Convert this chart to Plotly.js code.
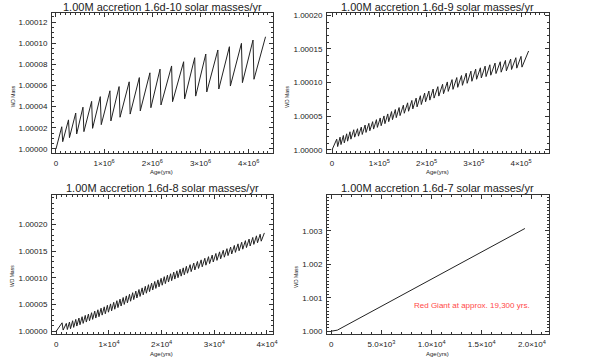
<!DOCTYPE html>
<html>
<head>
<meta charset="utf-8">
<script src="https://cdn.plot.ly/plotly-3.0.1.min.js"></script>
<style>
html,body{margin:0;padding:0;background:#fff}
#chart1{width:594px;height:362px}
</style>
</head>
<body>
<div id="chart1"></div>
<script>
// mass excess is in units of 1e-5 solar masses above 1.00M

// panel 1 : 1.6d-10, age in 1e6 yrs
var p1PeakAge = [0.12,0.26,0.41,0.56,0.74,0.92,1.12,1.31,1.52,1.73,1.95,2.16,2.40,2.65,2.88,3.11,3.36,3.60,3.85,4.09]
var p1PeakDm = [2.1,2.75,3.4,3.95,4.5,4.95,5.5,5.9,6.35,6.75,7.2,7.55,7.85,8.25,8.63,8.98,9.36,9.67,9.99,10.3]
var p1TroughAge = [0.14,0.28,0.43,0.58,0.76,0.94,1.14,1.33,1.54,1.75,1.97,2.18,2.42,2.67,2.90,3.13,3.38,3.62,3.87,4.11]
var p1TroughDm = [0.69,1.07,1.42,1.64,1.95,2.3,2.65,3.0,3.3,3.6,3.9,4.16,4.47,4.73,5.0,5.39,5.67,5.95,6.27,6.59]
var p1End = [4.35, 10.61]

// panel 2 : 1.6d-9, age in 1e5 yrs
var p2PeakAge = [0.10,0.17,0.24,0.31,0.38,0.46,0.54,0.62,0.70,0.78,0.86,0.94,1.02,1.10,1.18,1.26,1.34,1.42,1.51,1.60,1.69,1.78,1.87,1.96,2.05,2.14,2.24,2.34,2.44,2.54,2.64,2.74,2.84,2.94,3.04,3.14,3.24,3.34,3.45,3.56,3.67,3.78,3.89,4.00]
var p2PeakDm = [1.6,1.9,2.15,2.4,2.7,3.0,3.15,3.4,3.7,3.95,4.2,4.5,4.75,5.05,5.35,5.7,6.0,6.3,6.65,7.0,7.35,7.7,8.05,8.45,8.75,9.05,9.4,9.75,10.1,10.45,10.75,11.05,11.4,11.7,12.0,12.2,12.45,12.65,12.9,13.1,13.3,13.5,13.7,13.9]
var p2TroughAge = [0.12,0.19,0.26,0.33,0.40,0.48,0.56,0.64,0.72,0.80,0.88,0.96,1.04,1.12,1.20,1.28,1.36,1.44,1.53,1.62,1.71,1.80,1.89,1.98,2.07,2.16,2.26,2.36,2.46,2.56,2.66,2.76,2.86,2.96,3.06,3.16,3.26,3.36,3.47,3.58,3.69,3.80,3.91,4.02]
var p2TroughDm = [0.5,0.8,1.05,1.3,1.6,1.9,2.05,2.3,2.6,2.85,3.1,3.35,3.6,3.9,4.2,4.5,4.8,5.1,5.45,5.75,6.1,6.4,6.75,7.15,7.4,7.7,8.0,8.35,8.7,9.0,9.3,9.6,9.9,10.2,10.5,10.7,10.9,11.1,11.35,11.55,11.75,11.95,12.15,12.3]
var p2End = [4.16, 14.7]

// panel 3 : 1.6d-8, age in 1e4 yrs
var p3PeakAge = [0.11,0.19,0.25,0.31,0.37,0.43,0.49,0.55,0.61,0.67,0.73,0.79,0.85,0.91,0.97,1.03,1.09,1.15,1.21,1.27,1.33,1.39,1.45,1.51,1.57,1.63,1.69,1.75,1.81,1.87,1.93,1.99,2.05,2.11,2.17,2.23,2.29,2.35,2.41,2.47,2.54,2.61,2.68,2.75,2.82,2.89,2.96,3.03,3.10,3.17,3.24,3.31,3.38,3.45,3.52,3.59,3.66,3.73,3.80,3.87]
var p3PeakDm = [1.56,1.45,1.70,1.95,2.20,2.45,2.70,2.95,3.20,3.45,3.75,4.00,4.30,4.55,4.85,5.10,5.40,5.70,6.00,6.30,6.60,6.90,7.20,7.50,7.80,8.10,8.40,8.70,9.00,9.30,9.60,9.90,10.20,10.50,10.75,11.05,11.30,11.60,11.85,12.15,12.45,12.75,13.05,13.35,13.65,13.95,14.25,14.55,14.85,15.15,15.45,15.75,16.05,16.35,16.65,16.95,17.25,17.55,17.85,18.15]
var p3TroughAge = [0.13,0.21,0.27,0.33,0.39,0.45,0.51,0.57,0.63,0.69,0.75,0.81,0.87,0.93,0.99,1.05,1.11,1.17,1.23,1.29,1.35,1.41,1.47,1.53,1.59,1.65,1.71,1.77,1.83,1.89,1.95,2.01,2.07,2.13,2.19,2.25,2.31,2.37,2.43,2.49,2.56,2.63,2.70,2.77,2.84,2.91,2.98,3.05,3.12,3.19,3.26,3.33,3.40,3.47,3.54,3.61,3.68,3.75,3.82,3.89]
var p3TroughDm = [0.20,0.30,0.45,0.70,0.95,1.20,1.45,1.70,1.95,2.20,2.45,2.70,3.00,3.25,3.55,3.80,4.10,4.40,4.70,5.00,5.30,5.60,5.90,6.20,6.50,6.80,7.10,7.40,7.70,8.00,8.30,8.60,8.90,9.20,9.45,9.75,10.00,10.30,10.55,10.85,11.15,11.45,11.75,12.05,12.35,12.65,12.95,13.25,13.55,13.85,14.15,14.45,14.75,15.05,15.35,15.65,15.95,16.25,16.55,16.85]
var p3End = [3.95, 18.40]

// panel 4 : 1.6d-7, straight to red giant
var p4Age = [0, 600, 19300]
var p4Mass = [1.0, 1.00003, 1.00307]

var titles = ["1.00M accretion 1.6d-10 solar masses/yr", "1.00M accretion 1.6d-9 solar masses/yr",
              "1.00M accretion 1.6d-8 solar masses/yr", "1.00M accretion 1.6d-7 solar masses/yr"]

var x1Ticks = [0, 1e6, 2e6, 3e6, 4e6]
var x1Text = ["0", "1×10<sup>6</sup>", "2×10<sup>6</sup>", "3×10<sup>6</sup>", "4×10<sup>6</sup>"]
var x2Ticks = [0, 1e5, 2e5, 3e5, 4e5]
var x2Text = ["0", "1×10<sup>5</sup>", "2×10<sup>5</sup>", "3×10<sup>5</sup>", "4×10<sup>5</sup>"]
var x3Ticks = [0, 1e4, 2e4, 3e4, 4e4]
var x3Text = ["0", "1×10<sup>4</sup>", "2×10<sup>4</sup>", "3×10<sup>4</sup>", "4×10<sup>4</sup>"]
var x4Ticks = [0, 5e3, 1e4, 1.5e4, 2e4]
var x4Text = ["0", "5.0×10<sup>3</sup>", "1.0×10<sup>4</sup>", "1.5×10<sup>4</sup>", "2.0×10<sup>4</sup>"]

var y1Ticks = [1.00000, 1.00002, 1.00004, 1.00006, 1.00008, 1.00010, 1.00012]
var y2Ticks = [1.00000, 1.00005, 1.00010, 1.00015, 1.00020]
var y3Ticks = [1.00000, 1.00005, 1.00010, 1.00015, 1.00020]
var y4Ticks = [1.000, 1.001, 1.002, 1.003]

var FONT = "Liberation Sans"

function sawtooth(peakAge, peakDm, troughAge, troughDm, end, ageUnit){
    var x = [0], y = [1]
    for (let i=0; i<peakAge.length; i++){
        x.push(peakAge[i]*ageUnit); y.push(1 + peakDm[i]*1e-5)
        x.push(troughAge[i]*ageUnit); y.push(1 + troughDm[i]*1e-5)
    }
    x.push(end[0]*ageUnit); y.push(1 + end[1]*1e-5)
    return [x, y]
}

function minorTicks(dtick){
    return {ticks: 'inside', ticklen: 2, tickwidth: 1, tickcolor: '#333', tick0: 0, dtick: dtick}
}

function axis(extra){
    var a = {
        showgrid: false, zeroline: false, showline: true, linecolor: '#333', linewidth: 1,
        mirror: 'allticks', ticks: 'inside', ticklen: 4, tickwidth: 1, tickcolor: '#333',
        tickfont: {family: FONT, size: 8, color: '#222'}, ticklabelstandoff: 2, tickmode: 'array'
    }
    for (var k in extra) a[k] = extra[k]
    return a
}

var s1 = sawtooth(p1PeakAge, p1PeakDm, p1TroughAge, p1TroughDm, p1End, 1e6)
var s2 = sawtooth(p2PeakAge, p2PeakDm, p2TroughAge, p2TroughDm, p2End, 1e5)
var s3 = sawtooth(p3PeakAge, p3PeakDm, p3TroughAge, p3TroughDm, p3End, 1e4)

var line = {color: '#222', width: 1}
var data = [
    {x: s1[0], y: s1[1], xaxis: 'x', yaxis: 'y', mode: 'lines', line: line},
    {x: s2[0], y: s2[1], xaxis: 'x2', yaxis: 'y2', mode: 'lines', line: line},
    {x: s3[0], y: s3[1], xaxis: 'x3', yaxis: 'y3', mode: 'lines', line: line},
    {x: p4Age, y: p4Mass, xaxis: 'x4', yaxis: 'y4', mode: 'lines', line: line}
]

function ann(text, x, y, size, extra){
    var a = {text: text, x: x, y: y, xref: 'paper', yref: 'paper', showarrow: false,
             xanchor: 'center', yanchor: 'middle', font: {family: FONT, size: size, color: '#222'}}
    for (var k in extra) a[k] = extra[k]
    return a
}

var annotations = [
    ann(titles[0], 0.2736, 0.9815, 11),
    ann(titles[1], 0.7370, 0.9815, 11),
    ann(titles[2], 0.2736, 0.4815, 11),
    ann(titles[3], 0.7370, 0.4815, 11),
    ann("Age(yrs)", 0.2720, 0.5235, 6),
    ann("Age(yrs)", 0.7357, 0.5235, 6),
    ann("Age(yrs)", 0.2720, 0.0230, 6),
    ann("Age(yrs)", 0.7357, 0.0230, 6),
    ann("WD Mass", 0.0214, 0.7330, 5, {textangle: -90}),
    ann("WD Mass", 0.4832, 0.7330, 5, {textangle: -90}),
    ann("WD Mass", 0.0214, 0.2367, 5, {textangle: -90}),
    ann("WD Mass", 0.4990, 0.2367, 5, {textangle: -90}),
    {text: "Red Giant at approx. 19,300 yrs.", x: 14050, y: 1.000765, xref: 'x4', yref: 'y4',
     showarrow: false, font: {family: FONT, size: 8, color: '#ff4848'}}
]

var layout = {
    width: 594, height: 362,
    margin: {l: 0, r: 0, t: 0, b: 0},
    paper_bgcolor: '#fff', plot_bgcolor: '#fff',
    showlegend: false,
    xaxis: axis({domain: [0.0875, 0.4596], anchor: 'y', range: [-0.083e6, 4.505e6],
                 tickvals: x1Ticks, ticktext: x1Text, minor: minorTicks(1e5)}),
    yaxis: axis({domain: [0.5765, 0.9633], anchor: 'x', range: [0.9999959, 1.0001283],
                 tickvals: y1Ticks, tickformat: '.5f', minor: minorTicks(0.000005)}),
    xaxis2: axis({domain: [0.5505, 0.9237], anchor: 'y2', range: [-0.106e5, 4.585e5],
                  tickvals: x2Ticks, ticktext: x2Text, minor: minorTicks(1e4)}),
    yaxis2: axis({domain: [0.5765, 0.9633], anchor: 'x2', range: [0.999995, 1.000203],
                  tickvals: y2Ticks, tickformat: '.5f', minor: minorTicks(0.00001)}),
    xaxis3: axis({domain: [0.0875, 0.4596], anchor: 'y3', range: [-0.082e4, 4.114e4],
                  tickvals: x3Ticks, ticktext: x3Text, minor: minorTicks(1e3)}),
    yaxis3: axis({domain: [0.0760, 0.4613], anchor: 'x3', range: [0.9999937, 1.000255],
                  tickvals: y3Ticks, tickformat: '.5f', minor: minorTicks(0.00001)}),
    xaxis4: axis({domain: [0.5505, 0.9237], anchor: 'y4', range: [-430, 21670],
                  tickvals: x4Ticks, ticktext: x4Text, minor: minorTicks(1e3)}),
    yaxis4: axis({domain: [0.0760, 0.4613], anchor: 'x4', range: [0.9999007, 1.0040715],
                  tickvals: y4Ticks, tickformat: '.3f', minor: minorTicks(0.0001)}),
    annotations: annotations
}

Plotly.newPlot('chart1', data, layout, {staticPlot: true, displayModeBar: false})
</script>
</body>
</html>
